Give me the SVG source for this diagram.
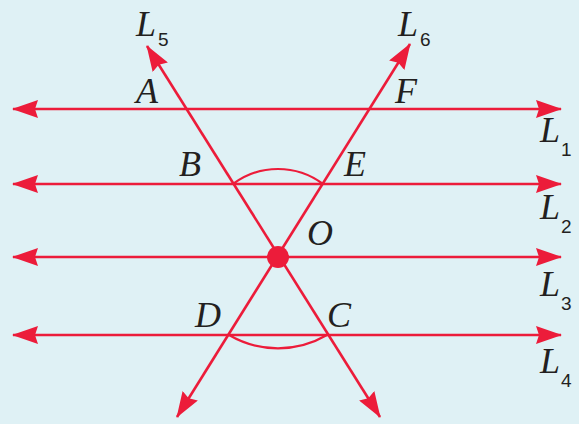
<svg xmlns="http://www.w3.org/2000/svg" width="579" height="424" viewBox="0 0 579 424">
  <style>
    .ln { stroke: #ec1c3a; stroke-width: 2.6; fill: none; }
    .arc { stroke: #ec1c3a; stroke-width: 2.2; fill: none; }
    .lbl { font-family: "Liberation Serif", "DejaVu Serif", serif; font-style: italic; font-size: 36px; fill: #231f20; }
    .sub { font-family: "Liberation Sans", "DejaVu Sans", sans-serif; font-style: normal; font-size: 19px; fill: #231f20; }
  </style>
  <defs>
    <marker id="arr" viewBox="0 0 26 18" refX="25" refY="9" markerWidth="26" markerHeight="18" markerUnits="userSpaceOnUse" orient="auto-start-reverse">
      <path d="M0,0 L26,9 L0,18 L3,9 z" fill="#ec1c3a"/>
    </marker>
  </defs>
  <rect x="0" y="0" width="579" height="424" fill="#dff1f5"/>

  <g id="connectors">
    <line id="L1" class="ln" x1="13" y1="109" x2="561" y2="109" marker-start="url(#arr)" marker-end="url(#arr)"/>
    <line id="L2" class="ln" x1="13" y1="184" x2="561" y2="184" marker-start="url(#arr)" marker-end="url(#arr)"/>
    <line id="L3" class="ln" x1="13" y1="257" x2="561" y2="257" marker-start="url(#arr)" marker-end="url(#arr)"/>
    <line id="L4" class="ln" x1="13" y1="335" x2="561" y2="335" marker-start="url(#arr)" marker-end="url(#arr)"/>
    <line id="L5" class="ln" x1="147" y1="46" x2="380" y2="417" marker-start="url(#arr)" marker-end="url(#arr)"/>
    <line id="L6" class="ln" x1="410" y1="44" x2="177" y2="417" marker-start="url(#arr)" marker-end="url(#arr)"/>
    <path id="arcBE" class="arc" d="M233,184 A75,75 0 0 1 323,184"/>
    <path id="arcDC" class="arc" d="M229,335 A97,97 0 0 0 327,335"/>
  </g>

  <g id="O">
    <circle cx="278" cy="257" r="11" fill="#ec1c3a"/>
    <text class="lbl" x="307" y="245">O</text>
  </g>
  <g id="A"><text class="lbl" x="136" y="103">A</text></g>
  <g id="F"><text class="lbl" x="395" y="103">F</text></g>
  <g id="B"><text class="lbl" x="179" y="176">B</text></g>
  <g id="E"><text class="lbl" x="344" y="176">E</text></g>
  <g id="D"><text class="lbl" x="195" y="327">D</text></g>
  <g id="C"><text class="lbl" x="327" y="327">C</text></g>

  <g id="label-L5"><text class="lbl" x="136" y="36">L</text><text class="sub" x="158" y="46">5</text></g>
  <g id="label-L6"><text class="lbl" x="398" y="36">L</text><text class="sub" x="420" y="46">6</text></g>
  <g id="label-L1"><text class="lbl" x="540" y="142">L</text><text class="sub" x="561" y="156">1</text></g>
  <g id="label-L2"><text class="lbl" x="540" y="219">L</text><text class="sub" x="561" y="233">2</text></g>
  <g id="label-L3"><text class="lbl" x="540" y="296">L</text><text class="sub" x="561" y="310">3</text></g>
  <g id="label-L4"><text class="lbl" x="540" y="373">L</text><text class="sub" x="561" y="387">4</text></g>
</svg>
